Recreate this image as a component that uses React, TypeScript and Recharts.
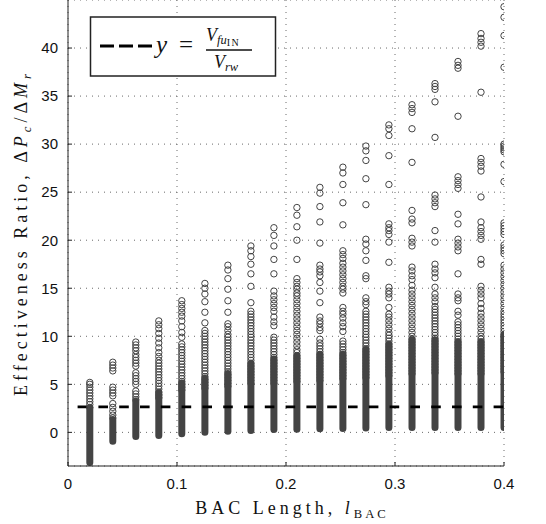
import {
  ComposedChart,
  Bar,
  Scatter,
  XAxis,
  YAxis,
  CartesianGrid,
  ReferenceLine,
} from "recharts";

// BAC length of each column of runs
const colX = [
  0.02, 0.0411, 0.0622, 0.0833, 0.1044, 0.1256, 0.1467, 0.1678, 0.1889, 0.21,
  0.2311, 0.2522, 0.2733, 0.2944, 0.3156, 0.3367, 0.3578, 0.3789, 0.4,
];

// span of each column where the circles pile up into a solid band
const solidLo = [
  -3.5, -1.3, -0.8, -0.7, -0.52, -0.35, -0.24, -0.17, -0.07, -0.05, 0, 0.05,
  0.1, 0.15, 0.15, 0.15, 0.15, 0.15, 0.15,
];
const solidHi = [
  2.9, 1.7, 3.6, 4.5, 5.5, 6.0, 6.5, 7.5, 8.0, 8.3, 8.5, 8.5, 9.0, 9.5, 10.0,
  10.0, 9.8, 9.8, 10.5,
];

// separate circles above the band
const col01 = [2.6, 2.9, 3.2, 3.5, 3.8, 4.1, 4.4, 4.7, 5.0, 5.2];
const col02 = [1.5, 1.8, 2.2, 2.6, 3.0, 3.8, 4.1, 4.4, 4.7, 6.4, 6.7, 7.0, 7.3];
const col03 = [3.4, 3.7, 4.0, 4.3, 5.0, 5.3, 5.6, 5.9, 6.2, 6.9, 7.2, 7.5, 7.8, 8.1, 8.5, 8.8, 9.1, 9.4];
const col04 = [
  3.6, 3.9, 4.2, 4.5, 4.8, 5.1, 5.4, 5.7, 6.0, 6.3, 6.6, 6.9, 7.2, 7.5, 7.9, 8.3,
  8.8, 9.3, 9.8, 10.3, 10.8, 11.2, 11.6,
];
const col05 = [
  4.4, 4.7, 5.0, 5.3, 5.6, 5.9, 6.2, 6.5, 6.8, 7.1, 7.4, 7.7, 8.0, 8.3, 8.6, 8.9,
  9.2, 9.9, 10.4, 11.0, 11.6, 12.1, 12.5, 12.9, 13.3, 13.7,
];
const col06 = [
  4.6, 4.9, 5.2, 5.5, 5.8, 6.1, 6.4, 6.7, 7.0, 7.3, 7.6, 7.9, 8.2, 8.5, 8.8, 9.1,
  9.4, 9.7, 10.0, 10.3, 10.6, 11.4, 12.5, 13.6, 14.4, 15.0, 15.5,
];
const col07 = [
  4.8, 5.1, 5.4, 5.7, 6.0, 6.3, 6.6, 6.9, 7.2, 7.5, 7.8, 8.1, 8.4, 8.7, 9.0, 9.3,
  9.6, 9.9, 10.2, 10.6, 11.0, 11.3, 12.5, 13.7, 14.9, 16.0, 16.9, 17.4,
];
const col08 = [
  5.1, 5.4, 5.7, 6.0, 6.3, 6.6, 6.9, 7.2, 7.5, 7.8, 8.1, 8.4, 8.7, 9.0, 9.3, 9.6,
  9.9, 10.2, 10.5, 10.8, 11.1, 11.4, 11.7, 12.0, 12.3, 12.6, 13.5, 15.2, 16.5,
  17.5, 18.3, 18.9, 19.4,
];
const col09 = [
  5.1, 5.4, 5.7, 6.0, 6.3, 6.6, 6.9, 7.2, 7.5, 7.8, 8.1, 8.4, 8.7, 9.0, 9.3, 9.6,
  9.9, 11.1, 11.5, 12.0, 12.6, 13.0, 13.4, 13.8, 14.2, 14.7, 16.5, 18.0, 19.4,
  20.5, 21.3,
];
const col10 = [
  5.3, 5.6, 5.9, 6.2, 6.5, 6.8, 7.1, 7.4, 7.7, 8.0, 8.3, 8.6, 9.0, 9.4, 9.8, 10.2,
  10.6, 11.0, 11.4, 11.8, 12.2, 12.6, 13.0, 13.4, 13.8, 14.2, 14.5, 14.9, 15.2,
  15.6, 16.0, 18.0, 20.0, 21.4, 22.6, 23.4,
];
const col11 = [
  5.4, 5.7, 6.0, 6.3, 6.6, 6.9, 7.2, 7.5, 7.8, 8.1, 8.4, 8.7, 9.0, 9.3, 9.7, 10.6,
  10.9, 11.3, 11.6, 12.0, 13.5, 14.7, 15.6, 16.3, 16.7, 17.0, 17.4, 19.7, 21.9,
  23.5, 24.9, 25.5,
];
const col12 = [
  5.6, 5.9, 6.2, 6.5, 6.8, 7.1, 7.4, 7.7, 8.0, 8.3, 8.6, 8.9, 9.2, 9.5, 10.5, 11.0,
  11.4, 11.9, 12.3, 12.6, 13.0, 14.5, 14.9, 15.2, 15.6, 16.0, 16.4, 16.8, 17.2,
  17.6, 18.1, 18.5, 18.9, 21.6, 23.9, 25.8, 27.0, 27.6,
];
const col13 = [
  5.7, 6.0, 6.3, 6.6, 6.9, 7.2, 7.5, 7.8, 8.1, 8.4, 8.7, 9.0, 9.3, 9.6, 9.9, 10.2,
  10.5, 10.8, 11.1, 11.4, 11.7, 12.0, 12.3, 12.6, 13.3, 13.6, 14.0, 16.0, 16.3,
  17.9, 18.9, 19.6, 20.1, 23.7, 26.4, 28.3, 29.3, 29.8,
];
const col14 = [
  5.9, 6.2, 6.5, 6.8, 7.1, 7.4, 7.7, 8.0, 8.3, 8.6, 8.9, 9.2, 9.5, 9.8, 10.1, 10.4,
  10.8, 11.2, 11.6, 12.0, 12.3, 13.0, 14.0, 14.4, 14.7, 15.1, 17.7, 19.8, 20.6,
  21.0, 21.3, 21.7, 25.8, 28.8, 30.9, 31.6, 32.0,
];
const col15 = [
  6.1, 6.4, 6.7, 7.0, 7.3, 7.6, 7.9, 8.2, 8.5, 8.8, 9.1, 9.4, 9.7, 10.0, 10.4,
  10.8, 11.2, 11.6, 12.0, 12.4, 12.8, 13.2, 13.6, 14.0, 14.4, 14.8, 15.3, 15.9,
  16.3, 16.8, 17.2, 19.4, 19.8, 20.2, 21.8, 22.2, 23.1, 28.1, 31.6, 33.3, 33.7,
  34.1,
];
const col16 = [
  6.2, 6.5, 6.8, 7.1, 7.4, 7.7, 8.0, 8.3, 8.6, 8.9, 9.2, 9.5, 9.8, 10.1, 10.4,
  10.7, 11.0, 11.3, 11.6, 11.9, 12.2, 12.5, 12.8, 13.1, 13.6, 14.0, 14.4, 15.1,
  16.1, 16.6, 17.0, 17.5, 19.8, 21.0, 23.5, 23.9, 24.3, 24.7, 30.7, 34.4, 35.7,
  36.0, 36.3,
];
const col17 = [
  6.1, 6.4, 6.7, 7.0, 7.3, 7.6, 7.9, 8.2, 8.5, 8.8, 9.1, 9.4, 9.7, 10.0, 10.3,
  10.6, 10.9, 11.2, 11.5, 12.2, 12.6, 13.7, 14.0, 14.4, 16.5, 18.9, 19.3, 19.7,
  20.1, 21.7, 22.7, 25.4, 25.8, 26.2, 26.6, 32.9, 37.9, 38.2, 38.6,
];
const col18 = [
  6.1, 6.4, 6.7, 7.0, 7.3, 7.6, 7.9, 8.2, 8.5, 8.8, 9.1, 9.4, 9.7, 10.0, 10.4,
  10.8, 11.2, 11.6, 12.0, 12.4, 12.9, 13.4, 14.0, 14.4, 14.8, 15.2, 17.5, 18.0,
  20.1, 20.5, 20.9, 21.3, 21.9, 24.5, 27.2, 27.7, 28.1, 28.5, 35.4, 40.2, 40.6,
  41.0, 41.5,
];
const col19 = [
  6.3, 6.6, 6.9, 7.2, 7.5, 7.8, 8.1, 8.4, 8.7, 9.0, 9.3, 9.6, 9.9, 10.2, 10.5,
  10.8, 11.1, 11.4, 11.7, 12.0, 12.3, 12.6, 13.0, 13.4, 13.8, 14.2, 14.6, 15.0,
  15.4, 15.8, 16.2, 16.6, 17.0, 17.4, 18.6, 18.9, 19.2, 19.5, 20.6, 20.9, 21.2,
  21.5, 21.8, 26.1, 27.9, 29.2, 29.4, 29.6, 29.8, 30.0, 38.0, 41.3, 43.2, 44.3,
];

const columns = [
  col01, col02, col03, col04, col05, col06, col07, col08, col09, col10,
  col11, col12, col13, col14, col15, col16, col17, col18, col19,
];

// V_fu / V_rw level
const RATIO_LINE = 2.65;

const xTicks = [0, 0.1, 0.2, 0.3, 0.4];
const yTicks = [0, 5, 10, 15, 20, 25, 30, 35, 40];

const bandData = colX.map((x, i) => ({ x, range: [solidLo[i], solidHi[i]] }));
const circleData = columns.flatMap((ys, i) => ys.map((y) => ({ x: colX[i], y })));

const tickStyle = { fontSize: 15, fill: "#111", fontFamily: "Liberation Sans" };
const titleFont = "Liberation Serif";

const OpenCircle = (props: any) => (
  <circle cx={props.cx} cy={props.cy} r={3.2} fill="none" stroke="#444" strokeWidth={1} />
);

export default function App() {
  return (
    <div style={{ position: "absolute", left: 0, top: 0, width: 546, height: 524, background: "#fff" }}>
      <ComposedChart
        width={546}
        height={524}
        data={bandData}
        margin={{ top: 0, right: 42, bottom: 0, left: 0 }}
      >
        <CartesianGrid stroke="#6a6a6a" strokeDasharray="1 5" />
        <XAxis
          type="number"
          dataKey="x"
          domain={[0, 0.4]}
          ticks={xTicks}
          interval={0}
          allowDataOverflow
          height={58}
          tick={tickStyle}
          tickSize={-4}
          tickMargin={16}
          stroke="#222"
        />
        <YAxis
          type="number"
          domain={[-3.5, 45]}
          ticks={yTicks}
          interval={0}
          allowDataOverflow
          width={68}
          tick={tickStyle}
          tickSize={-4}
          tickMargin={14}
          stroke="#222"
        />
        <Bar
          dataKey="range"
          barSize={7}
          radius={3.5}
          fill="#444"
          isAnimationActive={false}
        />
        <Scatter
          data={circleData}
          dataKey="y"
          shape={OpenCircle}
          isAnimationActive={false}
        />
        <ReferenceLine
          y={RATIO_LINE}
          stroke="#000"
          strokeWidth={2.6}
          strokeDasharray="9.6 11.2"
          strokeDashoffset={11.2}
        />
      </ComposedChart>

      <svg
        width={546}
        height={524}
        style={{ position: "absolute", left: 0, top: 0, pointerEvents: "none" }}
      >
        <text
          x={292}
          y={514}
          textAnchor="middle"
          fontFamily={titleFont}
          fontSize={18}
          letterSpacing={4}
          fill="#111"
        >
          BAC Length,{" "}
          <tspan fontStyle="italic">l</tspan>
          <tspan fontSize={12.6} letterSpacing={3} dy={4}>BAC</tspan>
        </text>
        <text
          transform="translate(27,233) rotate(-90)"
          textAnchor="middle"
          fontFamily={titleFont}
          fontSize={18}
          letterSpacing={4}
          fill="#111"
        >
          Effectiveness Ratio, Δ<tspan fontStyle="italic">P</tspan>
          <tspan fontSize={12.6} fontStyle="italic" dy={4}>c</tspan>
          <tspan dy={-4}>/Δ</tspan>
          <tspan fontStyle="italic">M</tspan>
          <tspan fontSize={12.6} fontStyle="italic" dy={4}>r</tspan>
        </text>

        <rect x={90.5} y={17} width={185} height={59} fill="#fff" stroke="#222" strokeWidth={1.5} />
        <line x1={100} y1={46} x2={152} y2={46} stroke="#000" strokeWidth={3} strokeDasharray="14 5" />
        <text x={156} y={53} fontFamily={titleFont} fontSize={25} fontStyle="italic" fill="#111">
          y
        </text>
        <text x={179} y={53} fontFamily={titleFont} fontSize={25} fill="#111">
          =
        </text>
        <text x={206} y={41} fontFamily={titleFont} fontSize={18} fontStyle="italic" fill="#111">
          V
          <tspan fontSize={12.5} dy={3}>fu</tspan>
          <tspan fontSize={10} fontStyle="normal" letterSpacing={1.5} dy={2}>IN</tspan>
        </text>
        <line x1={206} y1={50} x2={252} y2={50} stroke="#111" strokeWidth={1.4} />
        <text x={214} y={68} fontFamily={titleFont} fontSize={18} fontStyle="italic" fill="#111">
          V
          <tspan fontSize={12.5} dy={3}>rw</tspan>
        </text>
      </svg>
    </div>
  );
}
